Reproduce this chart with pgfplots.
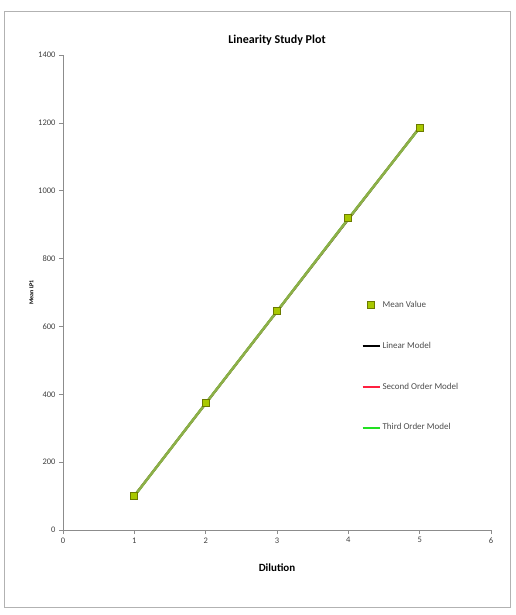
\documentclass[border=0pt]{standalone}
\usepackage{pgfplots}
\pgfplotsset{compat=1.18}
\usepackage{fontspec}
\setmainfont{Carlito}
\definecolor{mk}{HTML}{A8C800}
\definecolor{mkb}{HTML}{6B7A00}
\definecolor{ax}{HTML}{8C8C8C}
\definecolor{ln}{HTML}{8CB048}
\definecolor{rd}{HTML}{FF2040}
\definecolor{gr}{HTML}{22E022}
\begin{document}
\begin{tikzpicture}
\path (-63pt,-85pt) rectangle (452pt,530pt);
\draw[gray!60, line width=1pt] (-58pt,-77pt) rectangle (447pt,518pt);
\begin{axis}[
  at={(0,0)}, anchor=south west,
  scale only axis, width=428pt, height=475pt,
  xmin=0, xmax=6, ymin=0, ymax=1400,
  xtick={0,1,2,3,4,5,6}, ytick={0,200,400,600,800,1000,1200,1400},
  axis x line=bottom, axis y line=left,
  axis line style={ax, -, line width=0.8pt},
  tick style={ax, line width=0.6pt},
  tick align=outside, major tick length=4pt,
  tick label style={font=\fontsize{8.5}{9}\selectfont, text=black!75},
  /pgf/number format/assume math mode=true,
  /pgf/number format/1000 sep={},
  title={\textbf{Linearity Study Plot}},
  title style={font=\fontsize{12}{14}\selectfont},
  xlabel={\textbf{Dilution}}, xlabel style={font=\fontsize{11}{12}\selectfont, yshift=-14pt},
  ylabel={\textbf{Mean LP1}}, ylabel style={font=\fontsize{6}{7}\selectfont, yshift=-2pt},
  legend style={at={(0.69,0.49)}, anchor=north west, draw=none, fill=none,
    font=\fontsize{9}{10}\selectfont, row sep=29pt},
  legend cell align=left,
]
\addplot[only marks, mark=square*, mark size=3.5pt, mark options={fill=mk, draw=mkb, line width=0.8pt}]
  coordinates {(1,100) (2,374) (3,645) (4,920) (5,1185)};
\addlegendentry{\textcolor{black!70}{Mean Value}}
\addplot[black, line width=2pt] coordinates {(1,101) (2,372.5) (3,644) (4,915.5) (5,1187)};
\addlegendentry{\textcolor{black!70}{Linear Model}}
\addplot[rd, line width=2pt] coordinates {(1,100.5) (2,373) (3,644.5) (4,917) (5,1186)};
\addlegendentry{\textcolor{black!70}{Second Order Model}}
\addplot[gr, line width=2pt] coordinates {(1,100) (2,373.5) (3,645) (4,918) (5,1185)};
\addlegendentry{\textcolor{black!70}{Third Order Model}}
\addplot[ln, line width=2.6pt, forget plot] coordinates {(1,100.5) (2,373) (3,644.5) (4,917) (5,1186)};
\addplot[only marks, mark=square*, mark size=3.5pt, mark options={fill=mk, draw=mkb, line width=0.8pt}, forget plot]
  coordinates {(1,100) (2,374) (3,645) (4,920) (5,1185)};
\end{axis}
\end{tikzpicture}
\end{document}
